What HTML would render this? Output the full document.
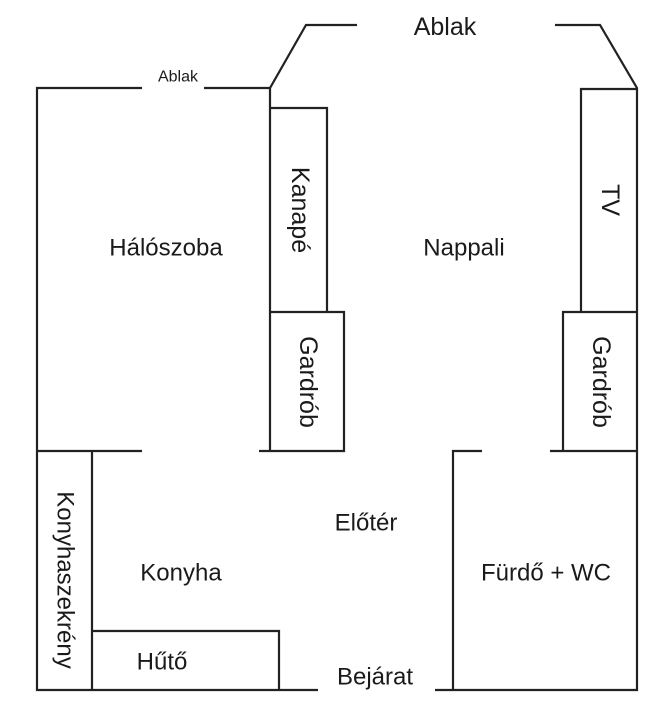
<!DOCTYPE html>
<html><head><meta charset="utf-8"><style>
html,body{margin:0;padding:0;background:#fff;}
svg{display:block;}
text{font-family:"Liberation Sans",sans-serif;fill:#1a1a1a;}
</style></head><body>
<svg width="672" height="724" viewBox="0 0 672 724" xmlns="http://www.w3.org/2000/svg">
<g stroke="#222" stroke-width="2.2" fill="none">
<polyline points="142,88 37,88 37,690 318,690"/>
<polyline points="204,88 270,88 306,25 357,25"/>
<polyline points="555,25 600,25 637,88 637,690 435,690"/>
<line x1="270" y1="88" x2="270" y2="451"/>
<polyline points="270,108 327,108 327,312"/>
<polyline points="270,312 344,312 344,451 259,451"/>
<line x1="37" y1="451" x2="142" y2="451"/>
<polyline points="637,89 581,89 581,312"/>
<polyline points="637,312 563,312 563,451"/>
<line x1="550" y1="451" x2="637" y2="451"/>
<polyline points="482,451 453,451 453,690"/>
<line x1="92" y1="451" x2="92" y2="690"/>
<polyline points="92,631 279,631 279,690"/>
</g>
<g font-size="24" text-anchor="middle" dominant-baseline="central">
<text x="445" y="27" font-size="25">Ablak</text>
<text x="178" y="77" font-size="16">Ablak</text>
<text x="166" y="248">Hálószoba</text>
<text x="464" y="248">Nappali</text>
<text x="366" y="523">Előtér</text>
<text x="181" y="573">Konyha</text>
<text x="546" y="573">Fürdő + WC</text>
<text x="162" y="662">Hűtő</text>
<text x="375" y="677">Bejárat</text>
<g font-size="25">
<text transform="translate(300,210) rotate(90)">Kanapé</text>
<text transform="translate(308,382) rotate(90)">Gardrób</text>
<text transform="translate(610,200) rotate(90)">TV</text>
<text transform="translate(601,382) rotate(90)">Gardrób</text>
<text transform="translate(65,580) rotate(90)" font-size="24">Konyhaszekrény</text>
</g>
</g>
</svg>
</body></html>
